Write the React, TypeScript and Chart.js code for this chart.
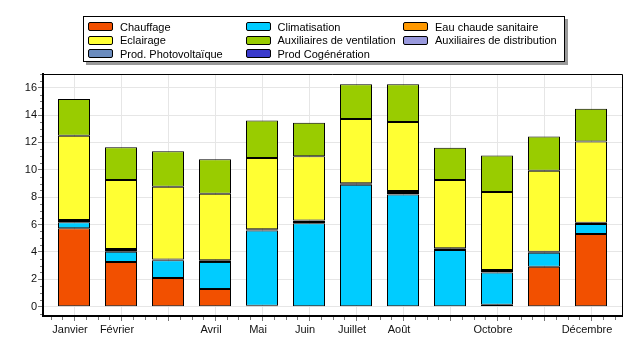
import { useEffect, useRef } from 'react';
import { Chart, registerables } from 'chart.js';

Chart.register(...registerables);

const months = ['Janvier', 'Février', 'Mars', 'Avril', 'Mai', 'Juin', 'Juillet', 'Août', 'Septembre', 'Octobre', 'Novembre', 'Décembre'];
const tickLabels = ['Janvier', 'Février', '', 'Avril', 'Mai', 'Juin', 'Juillet', 'Août', '', 'Octobre', '', 'Décembre'];
const yTicks = [0, 2, 4, 6, 8, 10, 12, 14, 16];

const chauffage = [5.73, 3.27, 2.1, 1.29, 0.06, 0, 0, 0, 0, 0.15, 2.92, 5.31];
const climatisation = [0.44, 0.75, 1.29, 1.98, 5.5, 6.1, 8.9, 8.2, 4.14, 2.34, 1.03, 0.73];
const eauChaude = [0.17, 0.2, 0.05, 0.12, 0.1, 0.2, 0.12, 0.25, 0.13, 0.19, 0.07, 0.1];
const eclairage = [6.14, 5.04, 5.33, 4.87, 5.21, 4.7, 4.7, 5.04, 4.99, 5.7, 5.92, 5.92];
const auxVentilation = [2.69, 2.39, 2.59, 2.51, 2.73, 2.44, 2.54, 2.76, 2.36, 2.66, 2.49, 2.41];
const auxDistribution = [0, 0, 0, 0, 0, 0, 0, 0, 0, 0, 0, 0];
const prodPhotovoltaique = [0, 0, 0, 0, 0, 0, 0, 0, 0, 0, 0, 0];
const prodCogeneration = [0, 0, 0, 0, 0, 0, 0, 0, 0, 0, 0, 0];

const seriesNames = ['Chauffage', 'Climatisation', 'Eau chaude sanitaire', 'Eclairage', 'Auxiliaires de ventilation', 'Auxiliaires de distribution', 'Prod. Photovoltaïque', 'Prod Cogénération'];
const seriesValues = [chauffage, climatisation, eauChaude, eclairage, auxVentilation, auxDistribution, prodPhotovoltaique, prodCogeneration];
const seriesColors = ['#F25000', '#00CCFF', '#FF9900', '#FFFF33', '#99CC00', '#9999DD', '#6B8CBE', '#3A3ACC'];

const FONT = "'Liberation Sans', Arial, sans-serif";

const framePlugin = {
  id: 'frameAndMinor',
  afterDraw(chart: any) {
    const { ctx, chartArea: a, scales } = chart;
    ctx.save();
    ctx.strokeStyle = '#000';
    ctx.lineWidth = 1;
    ctx.beginPath();
    ctx.moveTo(a.left, Math.floor(a.top) + 0.5);
    ctx.lineTo(Math.floor(a.right) + 0.5, Math.floor(a.top) + 0.5);
    ctx.lineTo(Math.floor(a.right) + 0.5, a.bottom);
    ctx.stroke();

    ctx.strokeStyle = '#777';
    ctx.beginPath();
    const xs = scales.x;
    for (let i = -3; i <= 47; i++) {
      if (i % 4 === 0) continue;
      const v = i / 4;
      if (v < xs.min || v > xs.max) continue;
      const px = Math.round(xs.getPixelForValue(v)) + 0.5;
      ctx.moveTo(px, a.bottom + 1);
      ctx.lineTo(px, a.bottom + 4);
    }
    const ys = scales.y;
    for (let v = -0.5; v <= 17; v += 0.5) {
      if (Math.abs(v % 2) < 1e-6) continue;
      const py = Math.round(ys.getPixelForValue(v)) + 0.5;
      ctx.moveTo(a.left - 1, py);
      ctx.lineTo(a.left - 3, py);
    }
    ctx.stroke();
    ctx.restore();
  },
};

export default function App() {
  const canvasRef = useRef<HTMLCanvasElement | null>(null);

  useEffect(() => {
    const canvas = canvasRef.current;
    if (!canvas) return;
    const chart = new Chart(canvas, {
      type: 'bar',
      data: {
        datasets: seriesNames.map((name, si) => ({
          label: name,
          data: seriesValues[si].map((v, i) => ({ x: i, y: v })),
          backgroundColor: seriesColors[si],
          borderColor: '#000',
          borderWidth: si === 2 ? 2 : 1,
          borderSkipped: false,
          barPercentage: 32 / 47,
          categoryPercentage: 1,
        })),
      },
      options: {
        animation: false,
        responsive: false,
        maintainAspectRatio: false,
        layout: { padding: { top: 74, right: 22, left: 0, bottom: 0 } },
        plugins: { legend: { display: false }, tooltip: { enabled: false } },
        scales: {
          x: {
            type: 'linear',
            stacked: true,
            offset: false,
            min: -31 / 47,
            max: 11 + 31 / 47,
            afterFit: (s: any) => { s.height = 38; },
            afterBuildTicks: (s: any) => { s.ticks = months.map((_, i) => ({ value: i })); },
            ticks: {
              includeBounds: false,
              stepSize: 1,
              autoSkip: false,
              maxRotation: 0,
              padding: 2,
              labelOffset: -4,
              color: '#111',
              font: { family: FONT, size: 11 },
              callback: (v: any) => tickLabels[Math.round(Number(v))] ?? '',
            },
            grid: { offset: false, color: '#e6e6e6', tickLength: 5, tickColor: '#777', lineWidth: 1 },
            border: { display: true, color: '#000', width: 2 },
          },
          y: {
            type: 'linear',
            stacked: true,
            min: -0.68,
            max: 17,
            afterFit: (s: any) => { s.width = 43; },
            afterBuildTicks: (s: any) => { s.ticks = yTicks.map((v) => ({ value: v })); },
            ticks: {
              includeBounds: false,
              stepSize: 2,
              padding: 1,
              color: '#111',
              font: { family: FONT, size: 11 },
            },
            grid: { color: '#e6e6e6', tickLength: 5, tickColor: '#777', lineWidth: 1 },
            border: { display: true, color: '#000', width: 2 },
          },
        },
      },
      plugins: [framePlugin],
    } as any);
    return () => chart.destroy();
  }, []);

  return (
    <div style={{ position: 'fixed', left: 0, top: 0, width: 644, height: 354, background: '#fff' }}>
      <canvas ref={canvasRef} width={644} height={354} style={{ position: 'absolute', left: 0, top: 0, width: 644, height: 354 }} />
      <div
        style={{
          position: 'absolute', left: 83, top: 16, width: 476, height: 41,
          border: '1px solid #000', background: '#fff', boxShadow: '3px 3px 0 #9a9a9a',
          display: 'grid', gridTemplateColumns: '157.5px 157.5px 157.5px', gridAutoRows: '13.6px',
          paddingTop: 3, paddingLeft: 4, boxSizing: 'content-box',
          fontFamily: FONT, fontSize: 11, color: '#000',
        }}
      >
        {seriesNames.map((name, i) => (
          <div key={name} style={{ display: 'flex', alignItems: 'center', whiteSpace: 'nowrap', height: 13.6 }}>
            <span style={{ display: 'inline-block', width: 23, height: 7, background: seriesColors[i], border: '1px solid #000', borderRadius: 2, marginRight: 7 }} />
            <span>{name}</span>
          </div>
        ))}
      </div>
    </div>
  );
}
